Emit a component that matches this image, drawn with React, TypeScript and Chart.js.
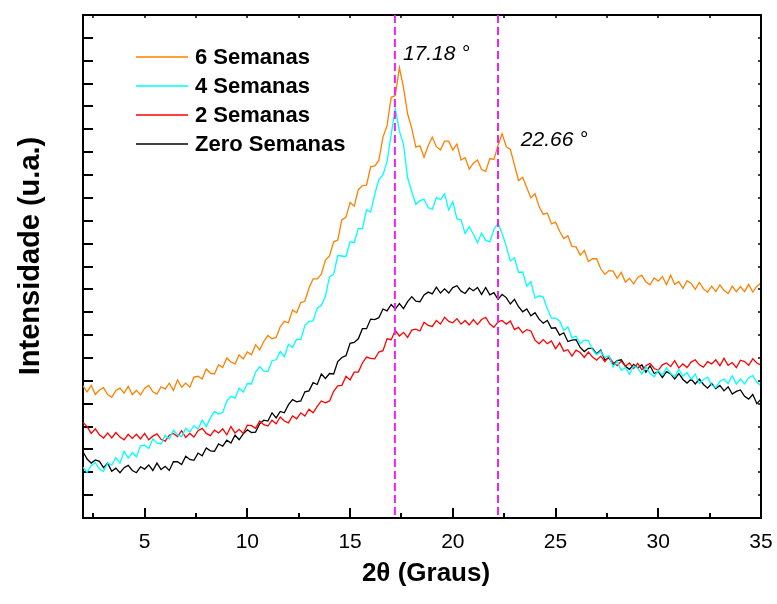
import React, { useEffect, useRef } from "react";
import { Chart, registerables } from "chart.js";

Chart.register(...registerables);

// 2θ grid (degrees)
const THETA = [
  2, 2.2, 2.4, 2.6, 2.8, 3, 3.2, 3.4, 3.6, 3.8,
  4, 4.2, 4.4, 4.6, 4.8, 5, 5.2, 5.4, 5.6, 5.8,
  6, 6.2, 6.4, 6.6, 6.8, 7, 7.2, 7.4, 7.6, 7.8,
  8, 8.2, 8.4, 8.6, 8.8, 9, 9.2, 9.4, 9.6, 9.8,
  10, 10.2, 10.4, 10.6, 10.8, 11, 11.2, 11.4, 11.6, 11.8,
  12, 12.2, 12.4, 12.6, 12.8, 13, 13.2, 13.4, 13.6, 13.8,
  14, 14.2, 14.4, 14.6, 14.8, 15, 15.2, 15.4, 15.6, 15.8,
  16, 16.2, 16.4, 16.6, 16.8, 17, 17.2, 17.4, 17.6, 17.8,
  18, 18.2, 18.4, 18.6, 18.8, 19, 19.2, 19.4, 19.6, 19.8,
  20, 20.2, 20.4, 20.6, 20.8, 21, 21.2, 21.4, 21.6, 21.8,
  22, 22.2, 22.4, 22.6, 22.8, 23, 23.2, 23.4, 23.6, 23.8,
  24, 24.2, 24.4, 24.6, 24.8, 25, 25.2, 25.4, 25.6, 25.8,
  26, 26.2, 26.4, 26.6, 26.8, 27, 27.2, 27.4, 27.6, 27.8,
  28, 28.2, 28.4, 28.6, 28.8, 29, 29.2, 29.4, 29.6, 29.8,
  30, 30.2, 30.4, 30.6, 30.8, 31, 31.2, 31.4, 31.6, 31.8,
  32, 32.2, 32.4, 32.6, 32.8, 33, 33.2, 33.4, 33.6, 33.8,
  34, 34.2, 34.4, 34.6, 34.8, 35,
];

const SEMANAS_6 = [
  289, 276, 290, 270, 280, 285, 270, 264, 279, 284,
  273, 288, 270, 279, 269, 284, 290, 276, 271, 287,
  282, 295, 279, 302, 286, 295, 286, 308, 310, 304,
  326, 317, 315, 335, 329, 350, 341, 337, 357, 348,
  363, 357, 379, 368, 386, 399, 392, 395, 418, 430,
  427, 455, 449, 471, 474, 503, 523, 523, 533, 564,
  573, 604, 608, 652, 658, 690, 682, 718, 727, 728,
  768, 770, 782, 833, 858, 920, 924, 985, 941, 884,
  852, 811, 814, 789, 814, 833, 812, 805, 824, 824,
  805, 818, 783, 788, 763, 776, 783, 762, 758, 786,
  784, 815, 840, 812, 806, 772, 738, 745, 722, 700,
  709, 681, 664, 667, 643, 647, 627, 611, 617, 594,
  593, 575, 585, 561, 567, 567, 545, 533, 541, 540,
  524, 537, 516, 524, 512, 526, 531, 516, 510, 525,
  518, 528, 510, 531, 511, 517, 502, 519, 513, 500,
  515, 501, 494, 507, 495, 510, 498, 491, 507, 495,
  506, 495, 511, 494, 507, 514,
];

const SEMANAS_4 = [
  111, 100, 115, 121, 107, 102, 120, 116, 132, 120,
  146, 131, 143, 134, 158, 159, 152, 173, 164, 162,
  181, 173, 192, 182, 178, 196, 188, 202, 194, 214,
  200, 219, 233, 227, 231, 256, 266, 262, 284, 275,
  294, 293, 319, 331, 321, 320, 344, 346, 364, 353,
  380, 373, 391, 390, 421, 430, 431, 459, 465, 485,
  528, 533, 574, 573, 572, 604, 602, 633, 633, 674,
  669, 708, 740, 750, 780, 839, 895, 846, 817, 744,
  714, 686, 694, 697, 679, 675, 701, 696, 709, 674,
  692, 654, 652, 622, 637, 621, 602, 623, 607, 604,
  631, 645, 622, 594, 562, 569, 537, 538, 507, 517,
  481, 486, 483, 457, 437, 437, 431, 410, 418, 394,
  398, 381, 389, 388, 368, 357, 365, 351, 355, 330,
  343, 323, 329, 314, 332, 328, 315, 331, 316, 309,
  323, 312, 328, 316, 309, 325, 310, 318, 303, 315,
  294, 303, 308, 291, 285, 299, 304, 294, 311, 293,
  304, 293, 307, 312, 296, 290,
];

const SEMANAS_2 = [
  209, 200, 185, 195, 182, 175, 186, 175, 187, 177,
  171, 183, 174, 183, 173, 185, 171, 179, 184, 172,
  168, 181, 185, 178, 191, 176, 185, 177, 191, 196,
  185, 180, 192, 186, 195, 182, 200, 186, 194, 185,
  203, 202, 196, 212, 204, 201, 214, 206, 221, 212,
  208, 223, 217, 230, 223, 238, 230, 244, 256, 252,
  256, 277, 289, 290, 310, 302, 319, 319, 339, 352,
  349, 348, 363, 366, 392, 390, 410, 398, 406, 395,
  411, 413, 409, 428, 421, 419, 432, 424, 439, 430,
  427, 436, 424, 432, 422, 434, 423, 434, 439, 424,
  417, 429, 432, 424, 431, 412, 417, 405, 412, 409,
  389, 381, 390, 381, 387, 370, 383, 365, 368, 354,
  367, 362, 351, 363, 352, 345, 354, 342, 353, 340,
  333, 343, 332, 339, 327, 338, 324, 333, 338, 327,
  323, 335, 339, 331, 344, 328, 337, 329, 341, 346,
  335, 330, 342, 337, 346, 333, 349, 334, 340, 329,
  345, 342, 334, 348, 339, 334,
];

const SEMANAS_0 = [
  145, 129, 120, 127, 124, 110, 120, 102, 109, 99,
  110, 115, 104, 99, 112, 107, 116, 104, 120, 106,
  113, 104, 123, 123, 117, 135, 128, 126, 142, 136,
  153, 147, 146, 162, 157, 170, 164, 181, 171, 184,
  193, 187, 188, 206, 214, 212, 230, 219, 233, 230,
  248, 259, 254, 256, 276, 278, 296, 292, 315, 305,
  316, 315, 342, 351, 355, 382, 384, 392, 414, 414,
  435, 434, 438, 457, 453, 467, 457, 469, 458, 473,
  484, 474, 473, 488, 494, 490, 505, 492, 501, 492,
  504, 508, 496, 491, 503, 497, 504, 489, 504, 488,
  493, 478, 489, 482, 468, 478, 462, 451, 457, 442,
  449, 435, 426, 432, 415, 416, 400, 405, 386, 389,
  390, 373, 364, 371, 371, 359, 367, 346, 350, 336,
  344, 346, 332, 325, 336, 328, 335, 319, 333, 316,
  320, 307, 320, 315, 304, 316, 303, 295, 304, 293,
  304, 292, 284, 294, 283, 290, 278, 287, 271, 277,
  280, 266, 260, 270, 250, 260,
];

const SERIES_LABELS = ["6 Semanas", "4 Semanas", "2 Semanas", "Zero Semanas"];
const SERIES_COLORS = ["#FF8000", "#00FFFF", "#FF0000", "#000000"];

const X_MAJOR_TICKS = [5, 10, 15, 20, 25, 30, 35];
const X_MINOR_TICKS = [2.5, 7.5, 12.5, 17.5, 22.5, 27.5, 32.5];
const X_TOP_TICKS = [2.5, 5, 7.5, 10, 12.5, 15, 17.5, 20, 22.5, 25, 27.5, 30, 32.5];
const Y_TICKS = [
  50, 100, 150, 200, 250, 300, 350, 400, 450, 500, 550,
  600, 650, 700, 750, 800, 850, 900, 950, 1000, 1050,
];

// dashed marker lines (2θ where drawn) and their labels
const PEAK_LINES = [17.18, 22.2];
const PEAK_LABELS = ["17.18 °", "22.66 °"];
const PEAK_LABEL_X = [17.57, 23.31];
const PEAK_LABEL_Y = [1015, 827];

const FONT = "'Liberation Sans', Arial, Helvetica, sans-serif";

const decorPlugin = {
  id: "decor",
  beforeDatasetsDraw(chart: any) {
    const { ctx, chartArea: a, scales } = chart;
    const x = scales.x;
    const y = scales.y;
    ctx.save();
    ctx.strokeStyle = "#000";
    ctx.lineCap = "butt";
    ctx.lineWidth = 2;
    for (const v of Y_TICKS) {
      const py = Math.round(y.getPixelForValue(v));
      ctx.beginPath();
      ctx.moveTo(a.left, py);
      ctx.lineTo(a.left + 10, py);
      ctx.stroke();
    }
    for (const v of X_MAJOR_TICKS) {
      const px = Math.round(x.getPixelForValue(v));
      ctx.beginPath();
      ctx.moveTo(px, a.bottom);
      ctx.lineTo(px, a.bottom - 10);
      ctx.stroke();
    }
    for (const v of X_MINOR_TICKS) {
      const px = Math.round(x.getPixelForValue(v));
      ctx.beginPath();
      ctx.moveTo(px, a.bottom);
      ctx.lineTo(px, a.bottom - 5);
      ctx.stroke();
    }
    ctx.lineWidth = 1.5;
    for (const v of X_TOP_TICKS) {
      const px = Math.round(x.getPixelForValue(v));
      ctx.beginPath();
      ctx.moveTo(px, a.top);
      ctx.lineTo(px, a.top + 3);
      ctx.stroke();
    }
    for (const v of Y_TICKS) {
      const py = Math.round(y.getPixelForValue(v));
      ctx.beginPath();
      ctx.moveTo(a.right, py);
      ctx.lineTo(a.right - 3, py);
      ctx.stroke();
    }
    ctx.restore();
  },
  afterDatasetsDraw(chart: any) {
    const { ctx, chartArea: a, scales } = chart;
    const x = scales.x;
    const y = scales.y;
    ctx.save();
    ctx.strokeStyle = "#000";
    ctx.lineWidth = 2;
    ctx.beginPath();
    ctx.moveTo(a.left, a.top);
    ctx.lineTo(a.right, a.top);
    ctx.lineTo(a.right, a.bottom);
    ctx.stroke();

    ctx.strokeStyle = "#EE22EE";
    ctx.lineWidth = 2;
    ctx.setLineDash([8, 4]);
    PEAK_LINES.forEach((p) => {
      const px = x.getPixelForValue(p);
      ctx.beginPath();
      ctx.moveTo(px, a.top);
      ctx.lineTo(px, a.bottom);
      ctx.stroke();
    });
    ctx.setLineDash([]);
    ctx.fillStyle = "#000";
    ctx.font = `italic 21px ${FONT}`;
    ctx.textBaseline = "middle";
    ctx.textAlign = "left";
    PEAK_LABELS.forEach((t, i) => {
      const px = x.getPixelForValue(PEAK_LABEL_X[i]);
      const py = y.getPixelForValue(PEAK_LABEL_Y[i]);
      ctx.fillText(t, px, py);
    });

    ctx.font = `bold 22px ${FONT}`;
    chart.data.datasets.forEach((ds: any, i: number) => {
      const ly = a.top + 42 + i * 29;
      ctx.strokeStyle = ds.borderColor;
      ctx.lineWidth = 1.5;
      ctx.beginPath();
      ctx.moveTo(a.left + 53, ly);
      ctx.lineTo(a.left + 105, ly);
      ctx.stroke();
      ctx.fillStyle = "#000";
      ctx.fillText(ds.label, a.left + 112, ly + 1);
    });

    ctx.textAlign = "center";
    ctx.font = `bold 26px ${FONT}`;
    ctx.fillText("2θ (Graus)", (a.left + a.right) / 2 + 4, 574);
    ctx.save();
    ctx.translate(31, 256);
    ctx.rotate(-Math.PI / 2);
    ctx.font = `bold 29px ${FONT}`;
    ctx.fillText("Intensidade (u.a.)", 0, 0);
    ctx.restore();
    ctx.restore();
  },
};

export default function App() {
  const canvasRef = useRef<HTMLCanvasElement | null>(null);

  useEffect(() => {
    if (!canvasRef.current) return;
    const seriesValues = [SEMANAS_6, SEMANAS_4, SEMANAS_2, SEMANAS_0];
    const datasets = seriesValues.map((vals, i) => ({
      label: SERIES_LABELS[i],
      data: THETA.map((t, j) => ({ x: t, y: vals[j] })),
      borderColor: SERIES_COLORS[i],
      backgroundColor: SERIES_COLORS[i],
      borderWidth: 1.3,
      pointRadius: 0,
      tension: 0,
      fill: false,
    }));
    const chart = new Chart(canvasRef.current, {
      type: "line",
      data: { datasets },
      options: {
        responsive: false,
        animation: false,
        layout: { padding: { left: 0, right: 16, top: 15, bottom: 0 } },
        plugins: { legend: { display: false }, tooltip: { enabled: false } },
        scales: {
          x: {
            type: "linear",
            min: 2,
            max: 35,
            grid: { display: false },
            border: { display: true, color: "#000", width: 2 },
            afterBuildTicks: (scale: any) => {
              scale.ticks = X_MAJOR_TICKS.map((v) => ({ value: v }));
            },
            afterFit: (scale: any) => {
              scale.height = 86;
              scale.paddingLeft = 0;
              scale.paddingRight = 0;
            },
            ticks: {
              autoSkip: false,
              maxRotation: 0,
              padding: 4,
              color: "#000",
              font: { family: FONT, size: 21 },
            },
          },
          y: {
            type: "linear",
            min: 0,
            max: 1100,
            grid: { display: false },
            border: { display: true, color: "#000", width: 2 },
            ticks: { display: false },
            afterFit: (scale: any) => {
              scale.width = 83;
              scale.paddingTop = 0;
              scale.paddingBottom = 0;
            },
          },
        },
      } as any,
      plugins: [decorPlugin],
    });
    return () => chart.destroy();
  }, []);

  return (
    <div style={{ position: "absolute", left: 0, top: 0, width: 777, height: 604, background: "#fff" }}>
      <canvas ref={canvasRef} width={777} height={604} style={{ display: "block" }} />
    </div>
  );
}
